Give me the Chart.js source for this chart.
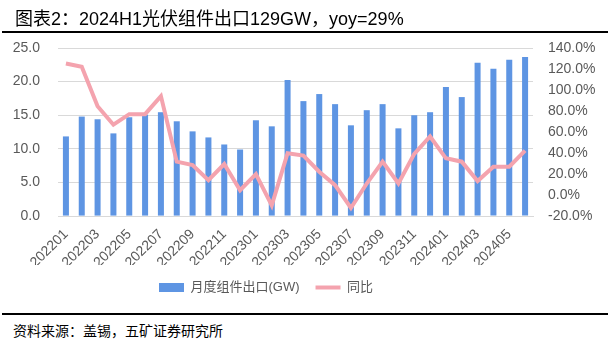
<!DOCTYPE html>
<html>
<head>
<meta charset="utf-8">
<script src="https://cdn.jsdelivr.net/npm/chart.js@4/dist/chart.umd.min.js"></script>
<style>
  html, body { margin: 0; padding: 0; background: #fff; }
  body { width: 608px; height: 342px; position: relative; overflow: hidden; font-family: "Liberation Sans", "Noto Sans CJK SC", sans-serif; }
  #title { position: absolute; left: 15px; top: 4px; font-size: 18px; color: #000; white-space: nowrap; font-family: "Liberation Sans", "Noto Sans CJK SC", sans-serif; }
  #rule1 { position: absolute; left: 2px; right: 0; top: 31px; height: 2px; background: #000; }
  #rule2 { position: absolute; left: 2px; right: 0; top: 313px; height: 1.5px; background: #000; }
  #source { position: absolute; left: 13px; top: 320px; font-size: 14px; color: #000; white-space: nowrap; font-family: "Liberation Sans", "Noto Sans CJK SC", sans-serif; }
  #wrap { position: absolute; left: 0; top: 0; width: 608px; height: 308px; }
</style>
</head>
<body>
<div id="wrap"><canvas id="c"></canvas></div>
<div id="title">图表2：2024H1光伏组件出口129GW，yoy=29%</div>
<div id="rule1"></div>
<div id="rule2"></div>
<div id="source">资料来源：盖锡，五矿证券研究所</div>
<script>
const categories = ["202201","202202","202203","202204","202205","202206","202207","202208","202209","202210","202211","202212",
  "202301","202302","202303","202304","202305","202306","202307","202308","202309","202310","202311","202312",
  "202401","202402","202403","202404","202405","202406"];
const exportsGW = [11.85,14.8,14.4,12.3,14.7,15.1,15.45,14.1,12.6,11.7,10.65,9.9,
  14.25,13.35,20.25,17.1,18.15,16.65,13.5,15.75,16.65,13.05,15.0,15.45,
  19.2,17.7,22.8,21.9,23.25,23.65];
const yoyPct = [125.3,122.1,84.6,67,77,77,94.2,31.8,28.6,14.2,29.6,4.6,
  20,-9.8,39.8,37.6,22.2,9.4,-12.3,11,31.8,11,39.2,55.8,
  35,31.8,13.3,27,27,42.4];
const seriesNames = ["月度组件出口(GW)", "同比"];

const tickFont = { family: "Liberation Sans, Arial, sans-serif", size: 14 };
const tickColor = "#595959";

const legendShift = {
  id: 'legendShift',
  afterLayout(chart) {
    const lg = chart.legend;
    if (lg) { lg.left -= 38; lg.right -= 38; }
  }
};

new Chart(document.getElementById('c'), {
  data: {
    labels: categories,
    datasets: [
      {
        type: 'line', label: seriesNames[1], data: yoyPct, yAxisID: 'y1',
        borderColor: '#F4A3AE', backgroundColor: '#F4A3AE', borderWidth: 4,
        pointRadius: 0, pointHoverRadius: 0, pointStyle: 'line', tension: 0, order: 0
      },
      {
        type: 'bar', label: seriesNames[0], data: exportsGW, yAxisID: 'y',
        backgroundColor: '#5E95E3', borderWidth: 0, pointStyle: 'rect',
        categoryPercentage: 1, barPercentage: 0.38, order: 1
      }
    ]
  },
  plugins: [legendShift],
  options: {
    responsive: true, maintainAspectRatio: false, animation: false,
    layout: { autoPadding: false, padding: { top: 48, left: 13, right: 13, bottom: 4 } },
    plugins: {
      tooltip: { enabled: false },
      legend: {
        position: 'bottom', reverse: true,
        labels: {
          usePointStyle: true, pointStyleWidth: 25, boxHeight: 9,
          padding: 16, color: '#595959',
          font: { family: "Liberation Sans, Noto Sans CJK SC, sans-serif", size: 13 }
        }
      }
    },
    scales: {
      x: {
        grid: { display: false },
        border: { display: true, color: '#d9d9d9' },
        afterFit: s => { s.height -= 8; s.paddingLeft = 0; s.paddingRight = 0; },
        ticks: {
          autoSkip: false, maxRotation: 45, minRotation: 45, color: tickColor, font: tickFont, padding: 2,
          callback: function(v, i) { return i % 2 === 0 ? categories[i] : ''; }
        }
      },
      y: {
        position: 'left', min: 0, max: 25,
        afterFit: s => { s.width = 45; },
        ticks: { stepSize: 5, color: tickColor, font: tickFont, padding: 18, callback: v => v.toFixed(1) },
        grid: { color: '#d9d9d9', drawTicks: false },
        border: { display: false }
      },
      y1: {
        position: 'right', min: -20, max: 140,
        afterFit: s => { s.width = 62; },
        ticks: { stepSize: 20, color: tickColor, font: tickFont, padding: 15, callback: v => v.toFixed(1) + '%' },
        grid: { display: false, drawTicks: false },
        border: { display: false }
      }
    }
  }
});
</script>
</body>
</html>
